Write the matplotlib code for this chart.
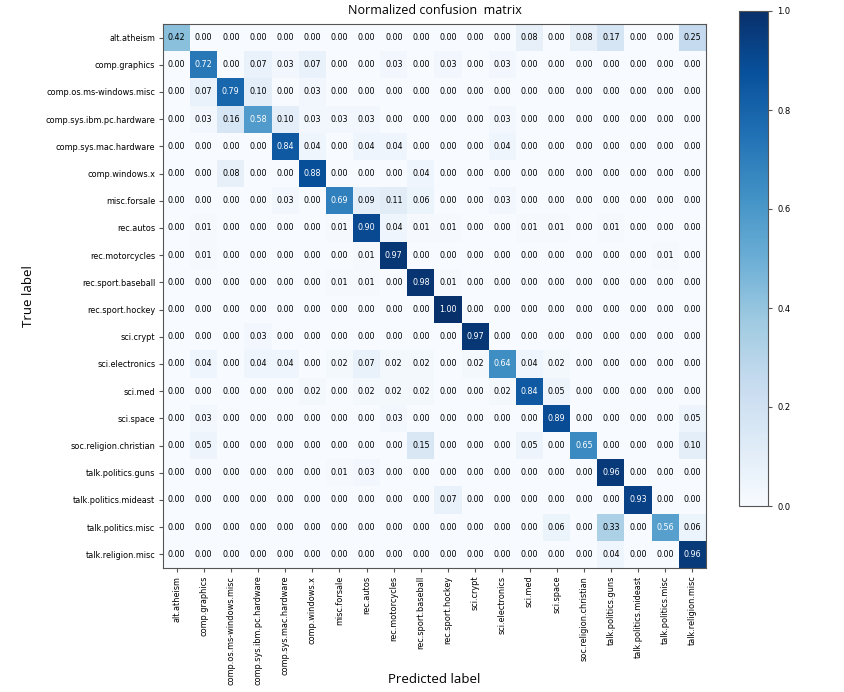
import numpy as np
import matplotlib
matplotlib.use("Agg")
import matplotlib.pyplot as plt

classes = ["alt.atheism", "comp.graphics", "comp.os.ms-windows.misc",
           "comp.sys.ibm.pc.hardware", "comp.sys.mac.hardware", "comp.windows.x",
           "misc.forsale", "rec.autos", "rec.motorcycles", "rec.sport.baseball",
           "rec.sport.hockey", "sci.crypt", "sci.electronics", "sci.med",
           "sci.space", "soc.religion.christian", "talk.politics.guns",
           "talk.politics.mideast", "talk.politics.misc", "talk.religion.misc"]

row_alt_atheism      = [0.42, 0, 0, 0, 0, 0, 0, 0, 0, 0, 0, 0, 0, 0.08, 0, 0.08, 0.17, 0, 0, 0.25]
row_comp_graphics    = [0, 0.72, 0, 0.07, 0.03, 0.07, 0, 0, 0.03, 0, 0.03, 0, 0.03, 0, 0, 0, 0, 0, 0, 0]
row_comp_os_ms       = [0, 0.07, 0.79, 0.10, 0, 0.03, 0, 0, 0, 0, 0, 0, 0, 0, 0, 0, 0, 0, 0, 0]
row_comp_ibm         = [0, 0.03, 0.16, 0.58, 0.10, 0.03, 0.03, 0.03, 0, 0, 0, 0, 0.03, 0, 0, 0, 0, 0, 0, 0]
row_comp_mac         = [0, 0, 0, 0, 0.84, 0.04, 0, 0.04, 0.04, 0, 0, 0, 0.04, 0, 0, 0, 0, 0, 0, 0]
row_comp_windows_x   = [0, 0, 0.08, 0, 0, 0.88, 0, 0, 0, 0.04, 0, 0, 0, 0, 0, 0, 0, 0, 0, 0]
row_misc_forsale     = [0, 0, 0, 0, 0.03, 0, 0.69, 0.09, 0.11, 0.06, 0, 0, 0.03, 0, 0, 0, 0, 0, 0, 0]
row_rec_autos        = [0, 0.01, 0, 0, 0, 0, 0.01, 0.90, 0.04, 0.01, 0.01, 0, 0, 0.01, 0.01, 0, 0.01, 0, 0, 0]
row_rec_motorcycles  = [0, 0.01, 0, 0, 0, 0, 0, 0.01, 0.97, 0, 0, 0, 0, 0, 0, 0, 0, 0, 0.01, 0]
row_rec_baseball     = [0, 0, 0, 0, 0, 0, 0.01, 0.01, 0, 0.98, 0.01, 0, 0, 0, 0, 0, 0, 0, 0, 0]
row_rec_hockey       = [0, 0, 0, 0, 0, 0, 0, 0, 0, 0, 1.00, 0, 0, 0, 0, 0, 0, 0, 0, 0]
row_sci_crypt        = [0, 0, 0, 0.03, 0, 0, 0, 0, 0, 0, 0, 0.97, 0, 0, 0, 0, 0, 0, 0, 0]
row_sci_electronics  = [0, 0.04, 0, 0.04, 0.04, 0, 0.02, 0.07, 0.02, 0.02, 0, 0.02, 0.64, 0.04, 0.02, 0, 0, 0, 0, 0]
row_sci_med          = [0, 0, 0, 0, 0, 0.02, 0, 0.02, 0.02, 0.02, 0, 0, 0.02, 0.84, 0.05, 0, 0, 0, 0, 0]
row_sci_space        = [0, 0.03, 0, 0, 0, 0, 0, 0, 0.03, 0, 0, 0, 0, 0, 0.89, 0, 0, 0, 0, 0.05]
row_soc_christian    = [0, 0.05, 0, 0, 0, 0, 0, 0, 0, 0.15, 0, 0, 0, 0.05, 0, 0.65, 0, 0, 0, 0.10]
row_talk_guns        = [0, 0, 0, 0, 0, 0, 0.01, 0.03, 0, 0, 0, 0, 0, 0, 0, 0, 0.96, 0, 0, 0]
row_talk_mideast     = [0, 0, 0, 0, 0, 0, 0, 0, 0, 0, 0.07, 0, 0, 0, 0, 0, 0, 0.93, 0, 0]
row_talk_pol_misc    = [0, 0, 0, 0, 0, 0, 0, 0, 0, 0, 0, 0, 0, 0, 0.06, 0, 0.33, 0, 0.56, 0.06]
row_talk_rel_misc    = [0, 0, 0, 0, 0, 0, 0, 0, 0, 0, 0, 0, 0, 0, 0, 0, 0.04, 0, 0, 0.96]

cm = np.array([row_alt_atheism, row_comp_graphics, row_comp_os_ms, row_comp_ibm,
               row_comp_mac, row_comp_windows_x, row_misc_forsale, row_rec_autos,
               row_rec_motorcycles, row_rec_baseball, row_rec_hockey, row_sci_crypt,
               row_sci_electronics, row_sci_med, row_sci_space, row_soc_christian,
               row_talk_guns, row_talk_mideast, row_talk_pol_misc, row_talk_rel_misc])

W, H = 844, 692
fig = plt.figure(figsize=(W / 100, H / 100), dpi=100)
ax = fig.add_axes([163 / W, (H - 568) / H, 543 / W, 544 / H])
cax = fig.add_axes([739 / W, (H - 506) / H, 29 / W, 495 / H])

im = ax.imshow(cm, interpolation="nearest", cmap=plt.cm.Blues, vmin=0, vmax=1, aspect="auto")
cb = fig.colorbar(im, cax=cax)
cb.ax.tick_params(labelsize=6, color="#555555", length=3)
cb.outline.set_edgecolor("#555555")

ticks = np.arange(len(classes))
ax.set_xticks(ticks)
ax.set_xticklabels(classes, rotation=90, fontsize=5.9)
ax.set_yticks(ticks)
ax.set_yticklabels(classes, fontsize=5.9)
ax.tick_params(length=3, color="#555555", pad=2.5)
for s in ax.spines.values():
    s.set_edgecolor("#555555")

thresh = cm.max() / 2.0
for i in range(cm.shape[0]):
    for j in range(cm.shape[1]):
        ax.text(j, i, format(cm[i, j], ".2f"), ha="center", va="center", fontsize=5.8,
                color="white" if cm[i, j] > thresh else "black")

ax.set_title("Normalized confusion  matrix", fontsize=9, pad=7, family="Open Sans")
ax.set_ylabel("True label", fontsize=9.5, family="Open Sans", labelpad=8)
ax.set_xlabel("Predicted label", fontsize=9.5, family="Open Sans")
ax.xaxis.set_label_coords(0.5, (568 - 673) / 544)

fig.savefig("out.png", dpi=100, facecolor="white")
